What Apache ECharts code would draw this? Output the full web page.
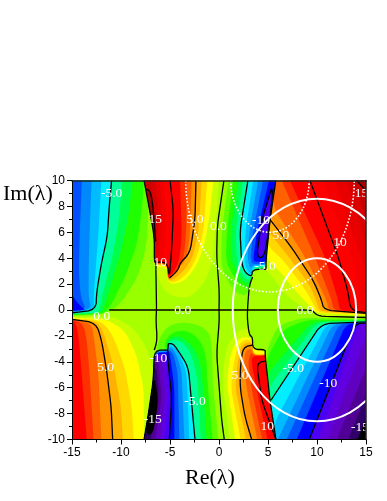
<!DOCTYPE html>
<html><head><meta charset="utf-8">
<style>html,body{margin:0;padding:0;background:#fff}#c{width:387px;height:501px}</style>
<script src="https://cdn.jsdelivr.net/npm/echarts@6/dist/echarts.min.js"></script>
</head><body><div id="c"></div>
<script>
// ---- values: level -> region boundary in (Re, Im) ----
const xTicks = {min:-15,max:15,step:5};
const yTicks = {min:-10,max:10,step:2};
const baseLevel = 0;

const wallA = [[-6.6,3.7],[-6.6,5.65],[-7.2,8.2],[-7.65,10]];
const wallC = [[4.8,3.85],[5.2,6.9],[5.8,10]];
const wallE = [[4.69,-3.36],[5.2,-6.97],[5.81,-10]];
const wallG = [[-6.7,-5.4],[-7.2,-8],[-7.65,-10]];

const leftTop = [
 [-1,[[-15,10],[-7.65,10],[-7.2,8.2],[-7.4,5],[-8.2,2.7],[-10,.5],[-11.5,-.3],[-15,-.44]]],
 [-2,[[-15,10],[-7.65,10],[-7.9,7.5],[-8.4,5],[-9.6,2.5],[-11,.4],[-11.7,-.3],[-15,-.38]]],
 [-3,[[-15,10],[-8.8,10],[-9.3,7],[-10,4.5],[-11,2],[-11.7,.3],[-12,-.25],[-15,-.33]]],
 [-4,[[-15,10],[-9.9,10],[-10.2,7],[-10.9,4],[-11.8,1.5],[-12.2,0],[-12.5,-.25],[-15,-.28]]],
 [-5,[[-15,10],[-10.96,10],[-11.2,8],[-11.4,5.65],[-12,3.6],[-12.5,1.3],[-12.55,0],[-15,-.22]]],
 [-6,[[-15,10],[-12,10],[-12.3,6],[-12.6,3],[-12.8,.9],[-12.7,0],[-15,-.18]]],
 [-7,[[-15,10],[-13,10],[-13.2,6],[-13.3,3],[-13.3,.9],[-13,.05],[-15,-.15]]],
 [-8,[[-15,10],[-14,10],[-14.2,6],[-14.3,3],[-14.1,.9],[-13.5,.05],[-15,-.1]]],
 [-9,[[-15,1.2],[-14.6,.7],[-14,.2],[-13.6,0],[-15,-.05]]]
];
const leftTopZero = [[-15,10],[-7.65,10],[-7.2,8.2],[-6.6,5.65],[-6.6,3.4],[-6.4,3.1],[-6.37,.02],[-11,.02],[-11.4,-.4],[-15,-.5]];

const leftBottom = [
 [1,[[-15,-.55],[-11,-.5],[-9,-1.2],[-7.5,-2.7],[-6.7,-4.5],[-7,-7],[-7.65,-10],[-15,-10]]],
 [2,[[-15,-.6],[-11.5,-.7],[-9.6,-1.6],[-8.4,-3.5],[-7.7,-6],[-7.65,-10],[-15,-10]]],
 [3,[[-15,-.65],[-12,-.8],[-10.8,-2],[-9.6,-4.5],[-8.9,-7.5],[-8.7,-10],[-15,-10]]],
 [4,[[-15,-.7],[-12.3,-.9],[-11.6,-2.2],[-10.7,-4.5],[-10,-7.5],[-9.8,-10],[-15,-10]]],
 [5,[[-15,-.72],[-12.55,-.98],[-11.98,-2.33],[-11.47,-4.65],[-11,-7.5],[-10.85,-10],[-15,-10]]],
 [6,[[-15,-.75],[-13,-1],[-12.75,-2.2],[-12.3,-5],[-12,-10],[-15,-10]]],
 [7,[[-15,-.76],[-13.9,-1],[-13.5,-2.2],[-13.2,-5],[-12.8,-10],[-15,-10]]],
 [8,[[-15,-.78],[-14.6,-1],[-14.3,-2.2],[-14,-5],[-13.5,-10],[-15,-10]]]
];

const centerTopPos = [
 [1,[[0,10],[-.3,7],[-.6,4],[-1.3,2.35],[-2.4,1.3],[-3.5,.9],[-5.2,1.2],[-6,2],[-6.38,3.1]]],
 [2,[[-.58,10],[-1,7],[-1.5,5],[-2.3,3.4],[-3.4,2.3],[-4.7,1.95],[-5.3,2.3],[-5.3,3.3],[-6.43,3.3]]],
 [3,[[-1.2,10],[-1.6,6],[-2.3,4],[-3.2,2.8],[-4.5,2.1],[-5.27,2.25],[-5.27,3.45],[-6.43,3.45]]],
 [4,[[-1.77,10],[-2.1,6],[-2.7,4],[-3.6,3],[-4.8,2.25],[-5.27,2.32],[-5.27,3.5],[-6.43,3.5]]],
 [5,[[-2.35,10],[-2.45,7],[-2.96,4.4],[-3.98,3.64],[-4.15,3.1],[-5,2.48],[-5.2,2.45],[-5.27,3.55],[-6.43,3.55]]],
 [6,[[-2.8,10],[-2.95,6],[-3.3,4],[-4.15,3.2],[-5,2.5],[-5.24,2.47],[-5.27,3.58],[-6.43,3.58]]],
 [7,[[-3.3,10],[-3.35,6],[-3.6,4],[-4.2,3.1],[-5,2.52],[-5.22,2.5],[-5.27,3.6],[-6.43,3.6]]],
 [8,[[-3.98,10],[-3.8,6],[-4,4],[-4.4,3.2],[-5,2.58],[-5.2,2.55],[-5.27,3.62],[-6.43,3.62]]],
 [11,[[-5.6,10],[-5.4,7],[-5.5,5],[-5.8,3.75],[-6.43,3.75]]],
 [12,[[-6,10],[-5.8,7],[-6,5],[-6.2,4],[-6.5,4]]],
 [13,[[-6.5,10],[-6.2,7.5],[-6.3,5.5],[-6.5,4.5]]],
 [14,[[-7,10],[-6.6,7.5],[-6.5,5.5]]]
];
const loop15 = [[-7.45,9.35],[-6.97,9.17],[-6.7,7.76],[-6.46,5.3],[-6.6,5.65],[-7.2,8.2]];

const centerTopNeg = [
 [0,[[.5,10],[-.17,6.5],[-.24,4.15],[.03,1.45],[0,.02],[2.9,.02],[3.09,1.9],[3.33,2.55],[3.43,3.13],[4.8,3.13]]],
 [-1,[[.95,10],[.3,6.17],[.2,4],[.4,3],[1.5,1.4],[3,1],[3.3,2.56],[3.43,3.15],[4.8,3.15]]],
 [-2,[[1.45,10],[.8,6.17],[.7,4],[1,3.2],[2.1,1.9],[3.1,1.6],[3.35,2.56],[3.43,3.18],[4.8,3.18]]],
 [-3,[[1.95,10],[1.2,6.17],[1.2,4],[1.6,3.3],[2.4,2.1],[3.15,2],[3.4,2.56],[3.43,3.2],[4.8,3.2]]],
 [-4,[[2.45,10],[1.7,6.17],[1.8,4],[2,3.3],[2.6,2.4],[3.2,2.3],[3.43,3.25],[4.8,3.25]]],
 [-5,[[2.95,10],[2.14,6.17],[2.31,3.6],[2.65,2.9],[3.33,2.56],[3.43,3.35],[4.8,3.35]]],
 [-6,[[3.5,10],[2.7,6.17],[2.6,3.6],[3,2.9],[3.38,2.75],[3.43,3.42],[4.8,3.42]]],
 [-7,[[4,10],[3.1,6.17],[2.9,4],[3.2,3.1],[3.43,3.5],[4.8,3.5]]],
 [-8,[[4.5,10],[3.5,6.17],[3.2,4],[3.4,3.5],[4.8,3.6]]],
 [-9,[[5.1,10],[3.9,6.17],[3.5,4],[3.6,3.7],[4.8,3.75]]]
];
const loopMinus10 = [[5.37,9.4],[4.35,6.9],[3.84,4.1],[4.59,4.05],[5.03,5.9],[5.47,9]];

const centerBottomNeg = [
 [0,[[.54,-10],[.27,-8.5],[-.24,-3.36],[.03,-.8],[0,-.02],[-6.37,-.02],[-6.44,-.79],[-6.3,-2.33],[-6.6,-3.1]]],
 [-1,[[-.07,-10],[-.65,-5.4],[-.7,-3],[-1,-1.6],[-3,-.9],[-5,-1.1],[-6,-2],[-6.4,-3.1]]],
 [-2,[[-.65,-10],[-1.19,-5.4],[-1.3,-3.5],[-2,-2.2],[-3.5,-1.5],[-5,-1.8],[-5.6,-2.6],[-5.4,-3.1],[-6.5,-3.1]]],
 [-3,[[-1.26,-10],[-1.67,-5.4],[-2,-3.8],[-2.8,-2.7],[-4,-2],[-5.1,-2.15],[-5.3,-2.8],[-5.3,-3.1],[-6.6,-3.1]]],
 [-4,[[-1.87,-10],[-2.18,-5.4],[-2.7,-3.7],[-3.3,-2.8],[-4.2,-2.3],[-5.2,-2.4],[-5.3,-3.1],[-6.6,-3.1]]],
 [-5,[[-2.45,-10],[-3.13,-4.4],[-3.98,-3.36],[-4.66,-2.6],[-5.17,-2.6],[-5.27,-3.12],[-6.6,-3.12]]],
 [-6,[[-3.03,-10],[-3.3,-5],[-3.6,-4.2],[-4.3,-3],[-5,-2.7],[-5.2,-2.7],[-5.3,-3.15],[-6.6,-3.15]]],
 [-7,[[-3.54,-10],[-3.8,-5],[-4,-4.2],[-4.5,-3.2],[-5,-2.85],[-5.25,-3.2],[-6.6,-3.2]]],
 [-8,[[-4.05,-10],[-4.2,-5],[-4.5,-3.8],[-4.9,-3.1],[-5.27,-3.25],[-6.6,-3.25]]],
 [-9,[[-4.56,-10],[-4.55,-6],[-4.9,-4],[-5.1,-3.1],[-5.27,-3.3],[-6.6,-3.3]]],
 [-10,[[-5.07,-10],[-4.83,-6.7],[-5.27,-3.5],[-5.27,-3.4],[-6.6,-3.4]]],
 [-11,[[-5.6,-10],[-5.2,-6.7],[-5.5,-3.5],[-6.6,-3.5]]],
 [-12,[[-6,-10],[-5.5,-6.7],[-5.8,-3.8],[-6.6,-3.7]]],
 [-13,[[-6.5,-10],[-5.85,-6.7],[-6.2,-4],[-6.62,-3.9]]],
 [-14,[[-7,-10],[-6.1,-6.7],[-6.4,-4.5],[-6.65,-4.5]]]
];
const loopMinus15 = [[-6.5,-5.4],[-6.2,-7.1],[-6.7,-9.5],[-7.3,-9.7],[-7.45,-9.3],[-6.7,-5.4]];

const centerBottomPos = [
 [1,[[1.1,-10],[.4,-6],[.5,-4],[1,-2.4],[2.2,-1.5],[3.1,-1.4],[3.43,-2.08],[3.43,-3.05],[4.75,-3.05]]],
 [2,[[1.65,-10],[.85,-6],[1,-4],[1.7,-2.3],[3.2,-1.95],[3.43,-3.05],[4.75,-3.05]]],
 [3,[[2.2,-10],[1.2,-6],[1.5,-4],[2.1,-2.4],[3.43,-2.25],[3.43,-3.4],[4.75,-3.4]]],
 [4,[[2.75,-10],[1.65,-6],[1.9,-4],[2.3,-2.6],[3.43,-2.45],[3.43,-3.45],[4.75,-3.45]]],
 [5,[[3.33,-10],[2.65,-8.25],[2.14,-5.94],[2.2,-4.13],[2.48,-2.85],[3.43,-2.72],[3.43,-3.47],[4.75,-3.47]]],
 [6,[[3.9,-10],[2.8,-6],[2.55,-4],[2.7,-3.1],[3.4,-3],[3.43,-3.5],[4.75,-3.5]]],
 [7,[[4.4,-10],[3.3,-6],[2.95,-4],[3.3,-3.2],[3.43,-3.52],[4.75,-3.52]]],
 [8,[[4.95,-10],[3.8,-6],[3.3,-4],[3.43,-3.55],[4.75,-3.55]]]
];

const rightTop = [
 [1,[[5.8,10],[5.2,6.9],[4.8,3.85],[4.8,3.13],[5.5,2.5],[7,1],[9,.05],[9.65,-.14],[10.13,-.45],[15,-.5],[15,10]]],
 [2,[[5.8,10],[5.2,6.9],[4.8,3.9],[6.1,3.1],[8,1.3],[9.4,.2],[10,-.25],[15,-.4],[15,10]]],
 [3,[[5.8,10],[5.2,6.9],[4.85,5],[6.5,3.9],[8.7,1.7],[9.7,.4],[10,-.2],[15,-.35],[15,10]]],
 [4,[[5.8,10],[5.2,6.9],[5.05,6],[6.9,4.3],[9.2,2],[10,.6],[10.2,-.1],[15,-.3],[15,10]]],
 [5,[[5.8,10],[5.25,6.94],[7.24,5],[9.62,2.3],[10.47,.76],[10.7,0],[15,-.26],[15,10]]],
 [6,[[5.8,10],[5.5,8],[8.77,4.1],[10.98,.76],[11.2,-.1],[15,-.2],[15,10]]],
 [7,[[6.4,10],[9.79,4.1],[11.5,.76],[11.7,-.1],[15,-.18],[15,10]]],
 [8,[[7.24,10],[10.8,4.1],[12.17,.76],[12.3,-.1],[15,-.15],[15,10]]],
 [11,[[10.6,10],[13.6,4],[14.3,1.5],[14.5,0],[15,-.1],[15,10]]],
 [12,[[11.8,10],[15,3],[15,10]]],
 [13,[[13,10],[15,4.9],[15,10]]],
 [14,[[13.6,10],[15,7],[15,10]]],
 [15,[[14.04,10],[15,9.2],[15,10]]]
];

const rightBottom = [
 [0,[[15,-.58],[10.13,-.48],[9.65,-.14],[9.4,-.02],[2.9,-.02],[2.9,-.8],[3.09,-1.95],[3.43,-2.08],[3.43,-3.05],[4.75,-3.05],[5.2,-6.97],[5.81,-10],[15,-10]]],
 [-1,[[15,-.7],[8.5,-.6],[6,-1.2],[4.8,-3.2],[5.2,-6.97],[5.81,-10],[15,-10]]],
 [-2,[[15,-.75],[9,-.75],[6.5,-1.5],[4.75,-3.9],[5.2,-6.97],[5.81,-10],[15,-10]]],
 [-3,[[15,-.8],[9.5,-.9],[4.85,-5],[5.2,-6.97],[5.81,-10],[15,-10]]],
 [-4,[[15,-.85],[10,-.95],[5.05,-6],[5.2,-6.97],[5.81,-10],[15,-10]]],
 [-5,[[15,-.92],[10.47,-1.05],[5.3,-6.97],[5.81,-10],[15,-10]]],
 [-6,[[15,-.95],[11,-1.05],[5.6,-8.8],[5.81,-10],[15,-10]]],
 [-7,[[15,-.97],[11.6,-1.05],[6,-10],[15,-10]]],
 [-8,[[15,-.98],[12.3,-1],[6.9,-10],[15,-10]]],
 [-9,[[15,-1],[13,-1],[7.92,-10],[15,-10]]],
 [-10,[[15,-1.02],[13.87,-1.05],[12.68,-3.36],[9.21,-10],[15,-10]]],
 [-11,[[15,-1.1],[14.3,-1.1],[10.13,-10],[15,-10]]],
 [-12,[[15,-2],[11.05,-10],[15,-10]]],
 [-13,[[15,-4.5],[12,-10],[15,-10]]],
 [-14,[[15,-6.5],[13.2,-10],[15,-10]]],
 [-15,[[15,-8.5],[14.2,-10],[15,-10]]]
];

// contour lines
const contourLines = [
 [[-10.96,10],[-11.2,8],[-11.4,5.65],[-12,3.6],[-12.5,1.3],[-12.55,0],[-15,-.22]],
 [[-15,-.72],[-12.55,-.98],[-11.98,-2.33],[-11.47,-4.65],[-11,-7.5],[-10.85,-10]],
 [[-11.2,0],[9.4,0],[9.65,-.14],[10.13,-.48],[15,-.58]],
 [[-6.44,3.1],[-6.37,0],[-6.44,-.79],[-6.3,-2.33],[-6.6,-3.1]],
 [[-7.65,10],[-7.2,8.2],[-6.6,5.65],[-6.6,3.7],[-6.43,3.7],[-6.44,3.1]],
 [[-5,10],[-4.66,7.75],[-4.8,5],[-5.07,2.5],[-5.27,3.7],[-6.43,3.7]],
 [[-7.45,9.35],[-6.97,9.17],[-6.7,7.76],[-6.46,5.3]],
 [[-2.35,10],[-2.45,7],[-2.96,4.4],[-3.98,3.64],[-4.15,3.1],[-5,2.48],[-5.07,2.5]],
 [[.5,10],[-.17,6.5],[-.24,4.15],[.03,1.45],[0,0],[.03,-.8],[-.24,-3.36],[.27,-8.5],[.54,-10]],
 [[2.95,10],[2.14,6.17],[2.31,3.6],[2.65,2.9],[3.33,2.56],[3.43,3.13],[4.8,3.13]],
 [[5.8,10],[5.2,6.9],[4.8,3.85],[4.8,3.13]],
 [[3.43,2.55],[3.09,1.9],[2.9,0],[2.9,-.8],[3.09,-1.95],[3.43,-2.08],[3.43,-3.05],[4.75,-3.05],[4.69,-3.36],[5.2,-6.97],[5.81,-10]],
 [[4.79,-3.93],[3.84,-4.08],[4.35,-6.97],[5.81,-10]],
 [[3.43,-2.72],[2.48,-2.85],[2.2,-4.13],[2.14,-5.94],[2.65,-8.25],[3.33,-10]],
 [[5.37,9.4],[4.35,6.9],[3.84,4.1],[4.59,4.05],[5.03,5.9],[5.47,9],[5.37,9.4]],
 [[5.25,6.94],[7.24,5],[9.62,2.3],[10.47,.76],[10.7,0],[15,-.26]],
 [[9.28,10],[12.17,4.1],[13.2,1.3],[13.43,-.05],[15,-.2]],
 [[14.04,10],[15,9.2]],
 [[5.3,-6.97],[10.47,-1.05],[15,-.92]],
 [[9.21,-10],[12.68,-3.36],[13.87,-1.05],[15,-1.02]],
 [[14.2,-10],[15,-8.5]],
 [[-5.17,-2.6],[-4.66,-2.6],[-3.98,-3.36],[-3.13,-4.4],[-2.45,-10]],
 [[-5.17,-2.6],[-5.27,-3.5],[-4.83,-6.7],[-5.07,-10]],
 [[-5.27,-3.1],[-6.6,-3.1],[-6.7,-5.4],[-7.2,-8],[-7.65,-10]]
];

// contour labels: text, Re, Im
const contourLabels = [
 ["-5.0",-10.96,9],["0.0",-11.96,-.53],["0.0",-3.7,-.07],["15",-6.5,6.98],["5.0",-2.45,6.98],
 ["0.0",-.07,6.42],["-10",4.28,6.94],["10",-6,3.69],["5.0",6.32,5.75],["-5.0",4.69,3.39],
 ["10",12.34,5.19],["15",14.55,9],["0.0",8.77,-.06],["5.0",-11.57,-4.4],["-10",-6.19,-3.75],
 ["-15",-6.77,-8.46],["-5.0",-2.45,-7.1],["5.0",2.14,-5.09],["10",4.93,-9.02],["-5.0",7.58,-4.52],
 ["-10",11.15,-5.68],["-15",14.4,-9.08]
];

// white reference circles: centre Re, centre Im, radius
const solidCircles = [[10,0,4],[10,0,8.6]];
const dottedCircles = [[5.2,10,4],[5.2,10,8.6]];

// level -> colour
const levelColors = {
 "-15":"#000000","-14":"#300068","-13":"#500094","-12":"#6000c0","-11":"#6000e0","-10":"#4a00f4",
 "-9":"#0000ff","-8":"#0050ff","-7":"#0088ff","-6":"#00bbff","-5":"#00eeff","-4":"#00ff98",
 "-3":"#00ff48","-2":"#20ff00","-1":"#60ff00","0":"#98ff00","1":"#c8ff00","2":"#ffff00",
 "3":"#ffd800","4":"#ffb000","5":"#ff9000","6":"#ff6000","7":"#ff3000","8":"#ff0000",
 "11":"#f40000","12":"#e80000","13":"#d80000","14":"#c80000","15":"#a80000"
};
const baseColor = "#a8ff00";

// ---- assemble paint order ----
const withWall = (list, wall) => list.map(b => [b[0], b[1].concat(wall)]);
const paint = [
 [baseLevel,[[-15,10],[15,10],[15,-10],[-15,-10]],baseColor],
 [0,leftTopZero],
 ...leftTop,
 ...leftBottom,
 ...withWall(centerTopPos,wallA),
 [15,loop15],
 ...withWall(centerTopNeg,wallC),
 [-10,loopMinus10],
 ...withWall(centerBottomNeg,wallG),
 [-15,loopMinus15],
 ...withWall(centerBottomPos,wallE),
 ...rightTop,
 ...rightBottom
];

const serif = '"Liberation Serif","Times New Roman",serif';
const sans = '"Liberation Sans",Arial,sans-serif';

// rendering only: round the vertices of a boundary a little, keep those on the plot edge
function rounded(dataPts, api, closed){
  let pts = dataPts.map((d,i)=>{
    const o = api.coord(d);
    return {x:o[0],y:o[1],hard:Math.abs(d[0])>=15||Math.abs(d[1])>=10||(!closed&&(i===0||i===dataPts.length-1))};
  });
  [5,2.5].forEach(cap=>{
    const out=[],n=pts.length;
    pts.forEach((p,i)=>{
      if(p.hard){out.push(p);return;}
      const a=pts[(i-1+n)%n],b=pts[(i+1)%n];
      [a,b].forEach(q=>{
        const dx=q.x-p.x,dy=q.y-p.y,len=Math.hypot(dx,dy)||1,c=Math.min(.25*len,cap)/len;
        out.push({x:p.x+dx*c,y:p.y+dy*c,hard:false});
      });
    });
    pts=out;
  });
  return pts.map(p=>[p.x,p.y]);
}

const series = [{
  type:'custom', coordinateSystem:'cartesian2d', clip:true, z:1, silent:true,
  data: paint.map(p=>p[1][0]),
  renderItem:(params,api)=>{
    const p = paint[params.dataIndex];
    return {type:'polygon',shape:{points:rounded(p[1],api,true)},
      style:{fill:p[2]||levelColors[p[0]],stroke:null}};
  }
},{
  type:'custom', coordinateSystem:'cartesian2d', clip:true, z:2, silent:true,
  data: contourLines.map(l=>l[0]),
  renderItem:(params,api)=>({type:'polyline',shape:{points:rounded(contourLines[params.dataIndex],api,false)},
      style:{fill:'none',stroke:'#000',lineWidth:1.3}})
}];
const circleSeries=(list,style)=>({type:'custom',coordinateSystem:'cartesian2d',clip:true,z:3,silent:true,
  data:list.map(c=>[c[0],c[1],c[2]]),
  renderItem:(params,api)=>{
    const c=list[params.dataIndex],o=api.coord([c[0],c[1]]),s=api.size([c[2],c[2]]);
    return {type:'ellipse',shape:{cx:o[0],cy:o[1],rx:s[0],ry:s[1]},style:Object.assign({fill:'none',stroke:'#fff'},style)};
  }});
series.push(circleSeries(solidCircles,{lineWidth:2}));
series.push(circleSeries(dottedCircles,{lineWidth:1.6,lineDash:[1.6,1.8]}));
series.push({type:'custom',coordinateSystem:'cartesian2d',clip:true,z:4,silent:true,
  data:contourLabels.map(l=>[l[1],l[2]]),
  renderItem:(params,api)=>{
    const l=contourLabels[params.dataIndex],o=api.coord([l[1],l[2]]);
    return {type:'text',style:{text:l[0],x:o[0],y:o[1],fill:'#fff',font:'13.5px '+serif,align:'center',verticalAlign:'middle'}};
  }});

const chart = echarts.init(document.getElementById('c'),null,{renderer:'canvas'});
const axisCommon = {
  type:'value',z:10,splitLine:{show:false},
  axisLine:{onZero:false,lineStyle:{color:'#000',width:1}},
  axisTick:{outside:true,length:5,lineStyle:{color:'#000',width:1}},
  minorTick:{show:true,splitNumber:2,length:3,lineStyle:{color:'#000',width:1}},
  axisLabel:{color:'#000',fontFamily:sans,fontSize:12,margin:7,hideOverlap:false,showMinLabel:true,showMaxLabel:true}
};
const frame = {type:'value',z:10,splitLine:{show:false},axisTick:{show:false},minorTick:{show:false},axisLabel:{show:false},
  axisLine:{show:true,onZero:false,lineStyle:{color:'#222',width:1.5}}};
chart.setOption({
  animation:false,
  backgroundColor:'#fff',
  grid:{left:72,right:21,top:180.5,height:259,show:false},
  xAxis:[
    Object.assign({},axisCommon,{min:xTicks.min,max:xTicks.max,interval:xTicks.step,position:'bottom'}),
    Object.assign({},frame,{min:xTicks.min,max:xTicks.max,interval:xTicks.step,position:'top'})
  ],
  yAxis:[
    Object.assign({},axisCommon,{min:yTicks.min,max:yTicks.max,interval:yTicks.step,position:'left'}),
    Object.assign({},frame,{min:yTicks.min,max:yTicks.max,interval:yTicks.step,position:'right'})
  ],
  series:series,
  graphic:[
    {type:'text',left:3,top:183,silent:true,style:{text:'Im(λ)',font:'22px '+serif,fill:'#000'}},
    {type:'text',left:185,top:467,silent:true,style:{text:'Re(λ)',font:'22px '+serif,fill:'#000'}}
  ]
});
</script></body></html>
